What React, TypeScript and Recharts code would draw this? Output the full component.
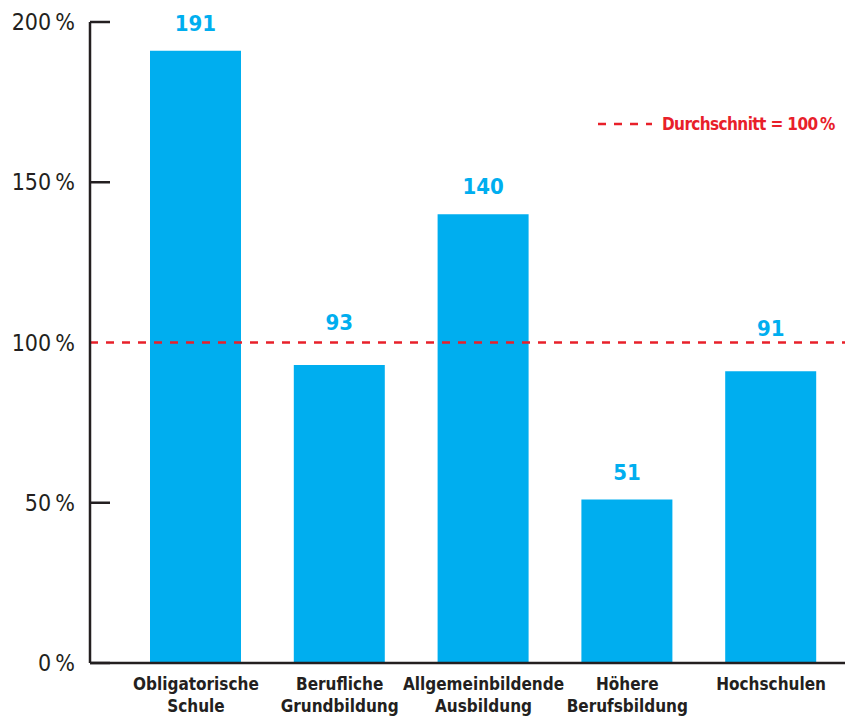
import React from 'react';
import {
  BarChart,
  Bar,
  XAxis,
  YAxis,
  ReferenceLine,
  LabelList
} from 'recharts';

// Index relative to average (Durchschnitt = 100 %)
const categories = [
  'Obligatorische\nSchule',
  'Berufliche\nGrundbildung',
  'Allgemeinbildende\nAusbildung',
  'Höhere\nBerufsbildung',
  'Hochschulen'
];
const values = [191, 93, 140, 51, 91];
const yTicks = [0, 50, 100, 150, 200];
const average = 100;
const legendLabel = 'Durchschnitt = 100\u2009%';

const BLUE = '#00AEEF';
const RED = '#E8202A';
const INK = '#231F20';
const FONT = '"Liberation Sans Narrow", "DejaVu Sans Condensed", "Roboto", sans-serif';

const CHART_W = 847;
const CHART_H = 712;
const Y_AXIS_W = 82;
const MARGIN = { top: 14, right: 10, left: 0, bottom: 0 };

const data = categories.map((name, i) => ({ name, value: values[i] }));

const YTick = ({ y, payload }: any) => {
  const axisX = MARGIN.left + Y_AXIS_W;
  return (
    <g>
      {payload.value !== average && (
        <line x1={axisX} x2={axisX + 20} y1={y} y2={y} stroke={INK} strokeWidth={2.5} />
      )}
      <text
        x={axisX - 15}
        y={y}
        dy={8}
        textAnchor="end"
        fontFamily={FONT}
        fontSize={23}
        fill={INK}
      >
        {payload.value}{'\u2009'}%
      </text>
    </g>
  );
};

const XTick = ({ x, y, payload }: any) => {
  const lines = String(payload.value).split('\n');
  return (
    <g>
      {lines.map((line, i) => (
        <text
          key={i}
          x={x}
          y={y + 19 + i * 22}
          textAnchor="middle"
          fontFamily={FONT}
          fontWeight="bold"
          fontSize={17}
          fill={INK}
        >
          {line}
        </text>
      ))}
    </g>
  );
};

// value label; lifted above the average line when the bar ends just below it
const ValueLabel = ({ x, y, width, value }: any) => {
  const nearAverage = value < average && value > average - 12;
  const lift = nearAverage ? 35 : 20;
  return (
    <text
      x={x + width / 2}
      y={y - lift}
      textAnchor="middle"
      fontFamily={FONT}
      fontWeight="bold"
      fontSize={22}
      fill={BLUE}
    >
      {value}
    </text>
  );
};

export default function App() {
  return (
    <div style={{ position: 'relative', width: CHART_W, height: CHART_H }}>
      <BarChart width={CHART_W} height={CHART_H} data={data} margin={MARGIN}>
        <XAxis
          dataKey="name"
          interval={0}
          height={57}
          padding={{ left: 34, right: 2 }}
          axisLine={{ stroke: INK, strokeWidth: 2.5 }}
          tickLine={false}
          tick={<XTick />}
        />
        <YAxis
          width={Y_AXIS_W}
          domain={[0, 200]}
          ticks={yTicks}
          interval={0}
          axisLine={{ stroke: INK, strokeWidth: 2.5 }}
          tickLine={false}
          tick={<YTick />}
        />
        <Bar dataKey="value" fill={BLUE} barSize={91} isAnimationActive={false}>
          <LabelList dataKey="value" content={<ValueLabel />} />
        </Bar>
        <ReferenceLine
          y={average}
          stroke={RED}
          strokeWidth={2.5}
          strokeDasharray="8 8"
          ifOverflow="extendDomain"
        />
      </BarChart>
      <div
        style={{
          position: 'absolute',
          top: 106,
          left: 590,
          display: 'flex',
          alignItems: 'center',
          whiteSpace: 'nowrap',
          fontFamily: FONT
        }}
      >
        <svg width={54} height={10}>
          <line x1={0} x2={54} y1={5} y2={5} stroke={RED} strokeWidth={2.5} strokeDasharray="8 8" />
        </svg>
        <span style={{ color: RED, fontWeight: 'bold', fontSize: 17, marginLeft: 10, letterSpacing: -0.6 }}>
          {legendLabel}
        </span>
      </div>
    </div>
  );
}
